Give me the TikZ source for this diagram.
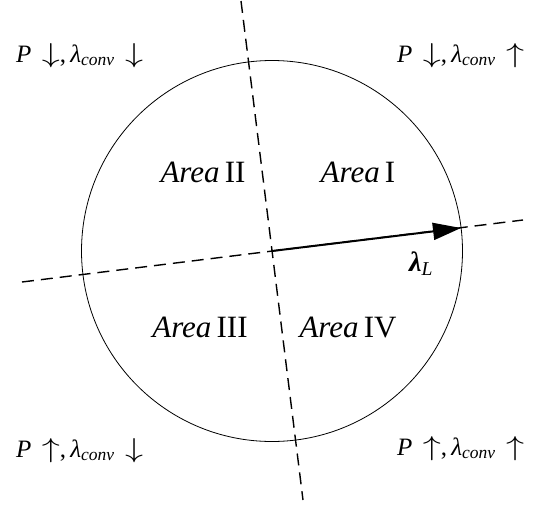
\documentclass[tikz,border=0pt]{standalone}
\usepackage{fontspec}
\setmainfont{Liberation Serif}
\usetikzlibrary{arrows.meta}

\newcommand{\lconv}{\textit{λ}\textsubscript{\textit{conv}}}
\newcommand{\dn}{\scalebox{1.45}[1.1]{$\downarrow$}}
\newcommand{\up}{\scalebox{1.45}[1.1]{$\uparrow$}}

\begin{document}
\begin{tikzpicture}[x=1pt,y=-1pt, line cap=round, line join=round,
  axisline/.style={line width=1.4pt, dash pattern=on 12pt off 7pt, line cap=butt},
  lbl/.style={font=\fontsize{25}{30}\selectfont, inner sep=0pt},
  arealbl/.style={font=\fontsize{31}{36}\selectfont, inner sep=0pt}]
\useasboundingbox (0,0) rectangle (542,507);

% Centre and dashed axes
\coordinate (O) at (272,251);
\coordinate (axTop) at (241,1);
\coordinate (axBot) at (303,500);
\coordinate (axLeft) at (22,282);
\coordinate (axRight) at (523,220);
\draw[axisline] (axTop) -- (axBot);
\draw[axisline] (axLeft) -- (axRight);

% Circle
\draw[line width=0.8pt] (O) circle (190.5);

% Load vector
\coordinate (tip) at (461,228);
\draw[line width=2pt, -{Triangle[length=28pt,width=17pt]}] (O) -- (tip);
\node[lbl, font=\fontsize{28}{32}\selectfont, anchor=base] (lamL) at (421,271) {\textbf{\textit{λ}}\textsubscript{\textit{L}}};

% Areas
\node[arealbl] (areaI)   at (358,172) {\textit{Area}\,I};
\node[arealbl] (areaII)  at (203,172) {\textit{Area}\,II};
\node[arealbl] (areaIII) at (200,327) {\textit{Area}\,III};
\node[arealbl] (areaIV)  at (348,327) {\textit{Area}\,IV};

% Corner labels
\node[lbl, anchor=base west] (tl) at (16,62)  {\textit{P}\,\ \dn,\,\lconv\ \,\dn};
\node[lbl, anchor=base west] (tr) at (397,62) {\textit{P}\,\ \dn,\,\lconv\ \,\up};
\node[lbl, anchor=base west] (bl) at (16,457) {\textit{P}\,\ \up,\,\lconv\ \,\dn};
\node[lbl, anchor=base west] (br) at (397,455) {\textit{P}\,\ \up,\,\lconv\ \,\up};
\end{tikzpicture}
\end{document}
